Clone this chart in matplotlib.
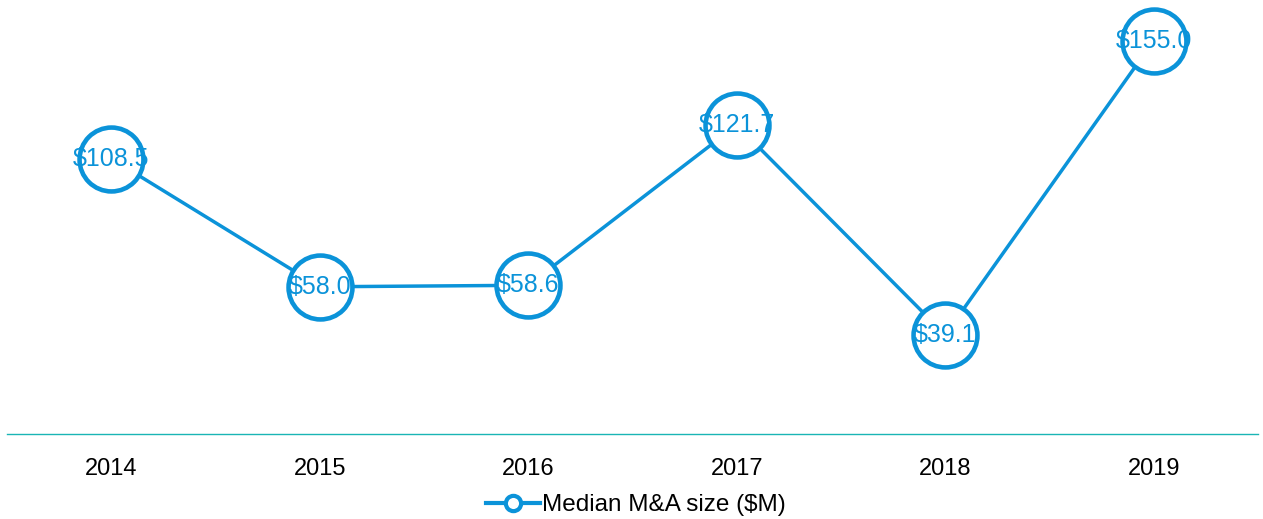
import matplotlib.pyplot as plt
from matplotlib.lines import Line2D

plt.rcParams['font.family'] = ['Liberation Sans', 'DejaVu Sans']

# Data
years = ['2014', '2015', '2016', '2017', '2018', '2019']
median_size = [108.5, 58.0, 58.6, 121.7, 39.1, 155.0]

blue = '#0B93D9'
teal = '#1AB5B5'

fig = plt.figure(figsize=(12.63, 5.19), dpi=100)
ax = fig.add_axes([7 / 1263, 85 / 519, 1251 / 1263, 434 / 519])

x = range(len(years))
ax.plot(x, median_size, color=blue, linewidth=2.5, marker='o', markersize=46,
        markerfacecolor='white', markeredgecolor=blue, markeredgewidth=3.3,
        clip_on=False, zorder=2)

for xi, v in zip(x, median_size):
    ax.text(xi, v, f'${v:.1f}', ha='center', va='center', fontsize=18,
            color=blue, zorder=3)

ax.set_xlim(-0.5, len(years) - 0.5)
ax.set_ylim(0, 171)
ax.set_xticks(list(x))
ax.set_xticklabels(years, fontsize=17)
ax.set_yticks([])
ax.tick_params(axis='x', length=0, pad=17)

for side in ['top', 'left', 'right']:
    ax.spines[side].set_visible(False)
ax.spines['bottom'].set_color(teal)
ax.spines['bottom'].set_linewidth(1)

handle = Line2D([], [], color=blue, linewidth=3, marker='o', markersize=11,
                markerfacecolor='white', markeredgecolor=blue, markeredgewidth=3)
fig.legend([handle], ['Median M&A size ($M)'], loc='center',
           bbox_to_anchor=(0.5035, 1 - 505 / 519), frameon=False, fontsize=17.5,
           handlelength=2.2, handletextpad=0.1)

fig.savefig('out.png', dpi=100)
